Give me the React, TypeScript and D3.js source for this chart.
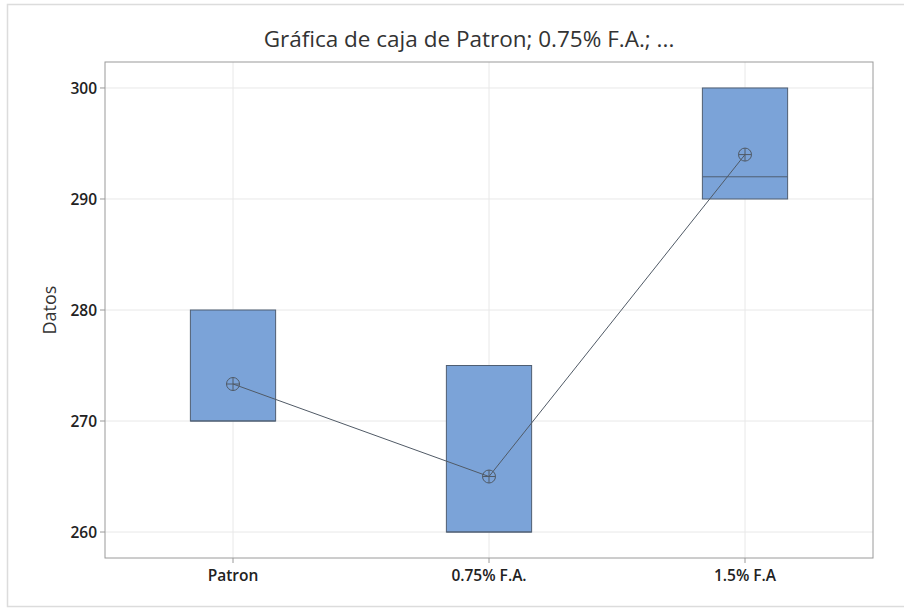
import React from "react";
import * as d3 from "d3";

// Group names and box statistics
const categories: string[] = ["Patron", "0.75% F.A.", "1.5% F.A"];
const q1Values: number[] = [270, 260, 290];
const q3Values: number[] = [280, 275, 300];
const medianValues: number[] = [270, 260, 292];
const meanValues: number[] = [273.333, 265, 294];
const yTicks: number[] = [260, 270, 280, 290, 300];

const titleText = "Gráfica de caja de Patron; 0.75% F.A.; ...";
const yLabel = "Datos";

const W = 904;
const H = 608;
const plot = { left: 105, right: 873, top: 62, bottom: 558 };
const FONT = "'Open Sans', 'Noto Sans', sans-serif";

export default function App() {
  const x = d3
    .scalePoint<string>()
    .domain(categories)
    .range([plot.left, plot.right])
    .padding(0.5);
  const y = d3
    .scaleLinear()
    .domain([257.66, 302.34])
    .range([plot.bottom, plot.top]);

  const boxW = x.step() * 0.333;
  const meanLine = d3
    .line<number>()
    .x((_, i) => x(categories[i]) as number)
    .y((d) => y(d));

  const r = 6.5;

  return (
    <svg
      width={W}
      height={H}
      style={{ position: "absolute", left: 0, top: 0, background: "#fff" }}
    >
      <rect x={7.5} y={4.5} width={W} height={602} fill="#fff" stroke="#dcdcdc" strokeWidth={1.5} />

      <text
        x={469}
        y={47}
        textAnchor="middle"
        fontFamily={FONT}
        fontSize={22.5}
        fill="#333"
      >
        {titleText}
      </text>

      {/* gridlines */}
      {yTicks.map((t) => (
        <line
          key={"gy" + t}
          x1={plot.left}
          x2={plot.right}
          y1={y(t)}
          y2={y(t)}
          stroke="#e8e8e8"
          strokeWidth={1}
        />
      ))}
      {categories.map((c) => (
        <line
          key={"gx" + c}
          x1={x(c)}
          x2={x(c)}
          y1={plot.top}
          y2={plot.bottom}
          stroke="#e8e8e8"
          strokeWidth={1}
        />
      ))}

      {/* boxes */}
      {categories.map((c, i) => {
        const cx = x(c) as number;
        const top = y(q3Values[i]);
        const bot = y(q1Values[i]);
        return (
          <g key={"box" + c}>
            <rect
              x={cx - boxW / 2}
              y={top}
              width={boxW}
              height={bot - top}
              fill="#7ba3d8"
              stroke="#4f5e72"
              strokeWidth={1}
            />
            <line
              x1={cx - boxW / 2}
              x2={cx + boxW / 2}
              y1={y(medianValues[i])}
              y2={y(medianValues[i])}
              stroke="#4f5e72"
              strokeWidth={1}
            />
          </g>
        );
      })}

      {/* mean connect line */}
      <path d={meanLine(meanValues) ?? ""} fill="none" stroke="#505a66" strokeWidth={1} />
      {categories.map((c, i) => {
        const cx = x(c) as number;
        const cy = y(meanValues[i]);
        return (
          <g key={"mean" + c} stroke="#505a66" strokeWidth={1} fill="none">
            <circle cx={cx} cy={cy} r={r} />
            <line x1={cx - r} x2={cx + r} y1={cy} y2={cy} />
            <line x1={cx} x2={cx} y1={cy - r} y2={cy + r} />
          </g>
        );
      })}

      {/* frame */}
      <rect
        x={plot.left}
        y={plot.top}
        width={plot.right - plot.left}
        height={plot.bottom - plot.top}
        fill="none"
        stroke="#9a9a9a"
        strokeWidth={1}
      />

      {/* y axis */}
      {yTicks.map((t) => (
        <g key={"ty" + t}>
          <line x1={plot.left - 5} x2={plot.left} y1={y(t)} y2={y(t)} stroke="#9a9a9a" />
          <text
            x={97}
            y={y(t)}
            dy="0.36em"
            textAnchor="end"
            fontFamily={FONT}
            fontSize={15.5}
            fontWeight={600}
            fill="#222"
          >
            {t}
          </text>
        </g>
      ))}

      {/* x axis */}
      {categories.map((c) => (
        <g key={"tx" + c}>
          <line x1={x(c)} x2={x(c)} y1={plot.bottom} y2={plot.bottom + 5} stroke="#9a9a9a" />
          <text
            x={x(c)}
            y={581}
            textAnchor="middle"
            fontFamily={FONT}
            fontSize={15.5}
            fontWeight={600}
            fill="#222"
          >
            {c}
          </text>
        </g>
      ))}

      <text
        transform={`translate(56, ${(plot.top + plot.bottom) / 2}) rotate(-90)`}
        textAnchor="middle"
        fontFamily={FONT}
        fontSize={18}
        fill="#333"
      >
        {yLabel}
      </text>
    </svg>
  );
}
